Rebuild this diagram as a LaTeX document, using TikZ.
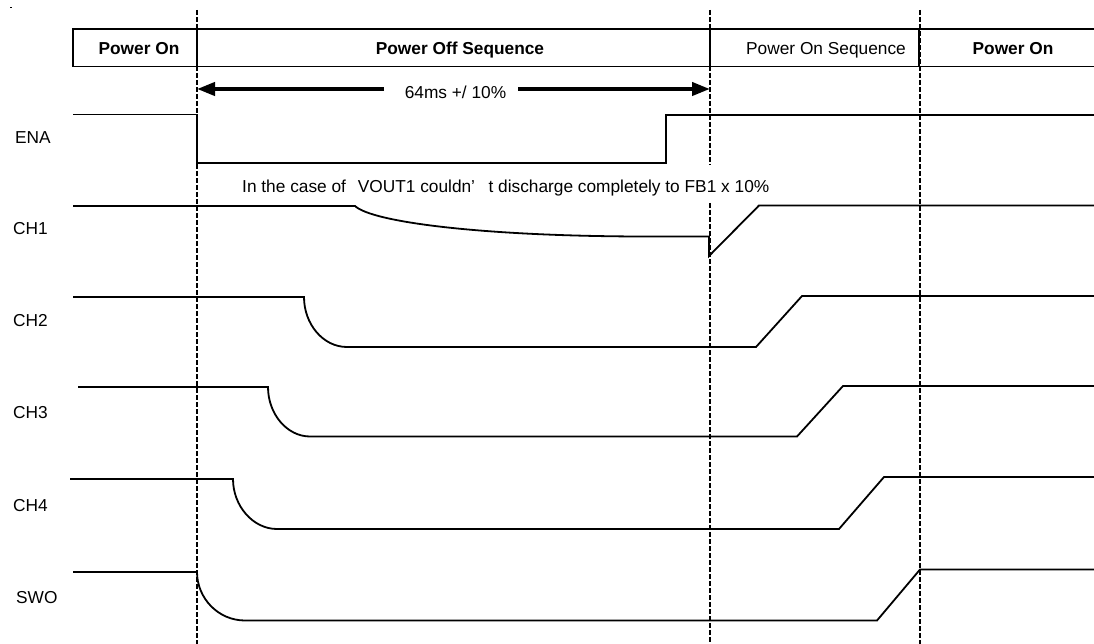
\documentclass[tikz,border=0pt]{standalone}
\usepackage{fontspec}
\setmainfont{Liberation Sans}
\usetikzlibrary{arrows.meta}
\begin{document}
\begin{tikzpicture}[x=1pt,y=-1pt,
  sig/.style={line width=1.8pt, line join=miter},
  guide/.style={line width=2.2pt, dash pattern=on 5pt off 2pt},
  hdr/.style={line width=1.6pt},
  lbl/.style={font=\fontsize{17.3}{20}\selectfont, inner sep=0pt, anchor=base},
  hb/.style={lbl, font=\fontsize{17.3}{20}\selectfont\bfseries},
  sidelbl/.style={lbl, anchor=base west},
  spanarrow/.style={line width=4pt, -{Triangle[length=18pt,width=13pt]}},
]
\useasboundingbox (0,0) rectangle (1094,644);
\fill[white] (0,0) rectangle (1094,644);
\draw[line width=0.8pt] (10,7) -- (12,7);

% header boxes
\draw[hdr] (73,29) rectangle (197,66.5);
\draw[hdr] (197,29) rectangle (710,66.5);
\draw[hdr] (710,29) rectangle (919,66.5);
\draw[hdr] (1094,29) -- (919,29) -- (919,66.5) -- (1094,66.5);
\node[hb]  (h1) at (139,54.5) {Power On};
\node[hb]  (h2) at (460,54.5) {Power Off Sequence};
\node[lbl] (h3) at (826,54.5) {Power On Sequence};
\node[hb]  (h4) at (1013,54.5) {Power On};

% guide lines
\draw[guide] (197,10) -- (197,644);
\draw[guide] (710,10) -- (710,165);
\draw[guide] (710,203) -- (710,644);
\draw[guide] (920,10) -- (920,644);

% duration arrow
\coordinate (aL) at (197,89);
\coordinate (aR) at (710,89);
\coordinate (aLs) at (384,89);
\coordinate (aRs) at (518,89);
\node[lbl] (dur) at (455.5,99) {64ms +/ 10\%};
\draw[spanarrow] (aLs) -- (aL);
\draw[spanarrow] (aRs) -- (aR);

% note
\node[lbl, anchor=base west] (note) at (242,192.3) {In the case of\hspace{0.4em} VOUT1 couldn’\hspace{0.5em} t discharge completely to FB1 x 10\%};

% side labels
\node[sidelbl] (lena) at (15,144) {ENA};
\node[sidelbl] (lch1) at (13,235) {CH1};
\node[sidelbl] (lch2) at (13,326.7) {CH2};
\node[sidelbl] (lch3) at (13,418.3) {CH3};
\node[sidelbl] (lch4) at (13,511) {CH4};
\node[sidelbl] (lswo) at (16,603.3) {SWO};

% signals
\draw[sig] (73,114.5) -- (197,114.5) -- (197,163) -- (666,163) -- (666,115) -- (1094,115);
\draw[sig] (73,206) -- (355,206) .. controls (372,222) and (480,236) .. (640,236.5) -- (709,236.5) -- (709,256) -- (759,205.5) -- (1094,205.5);
\draw[sig] (73,297) -- (304,297) .. controls (304,324) and (323,347) .. (347,347) -- (756,347) -- (802,296) -- (1094,296);
\draw[sig] (78,387) -- (268,387) .. controls (268,414) and (287,436.5) .. (310,436.5) -- (797,436.5) -- (843,386) -- (1094,386);
\draw[sig] (70,479) -- (233,479) .. controls (233,506) and (253,529) .. (277,529) -- (839,529) -- (884,477) -- (1094,477);
\draw[sig] (73,572) -- (197,572) .. controls (197,598) and (218,620.5) .. (245,620.5) -- (877,620.5) -- (920,569.5) -- (1094,569.5);
\end{tikzpicture}
\end{document}
